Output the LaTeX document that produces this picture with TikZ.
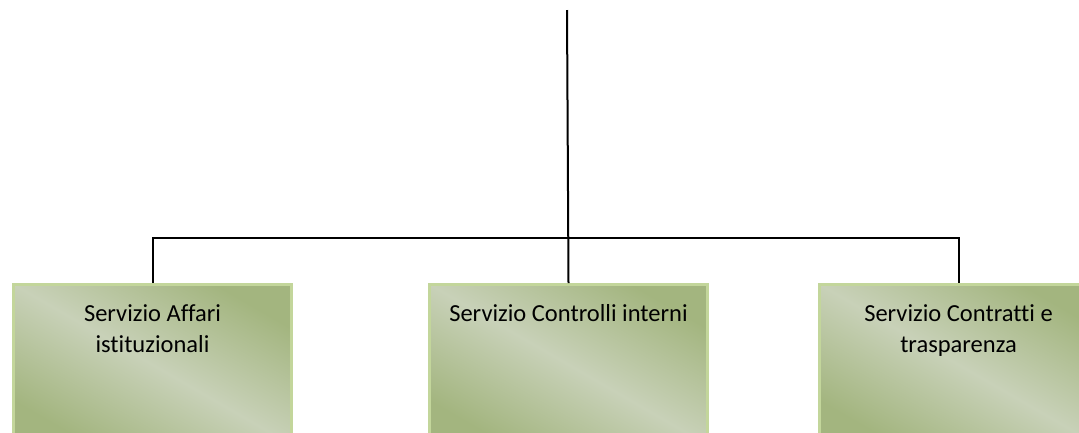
\documentclass[tikz,border=0pt]{standalone}
\usepackage{fontspec}
\setmainfont{Carlito}[Ligatures=NoCommon]
\usetikzlibrary{shadows}
\definecolor{boxdark}{HTML}{A3B57F}
\definecolor{boxlight}{HTML}{C8D1B8}
\definecolor{boxborder}{HTML}{C3D69B}
\begin{document}
\begin{tikzpicture}[x=1pt, y=-1pt,
        servicebox/.style={draw=boxborder, line width=3pt, minimum width=278pt, minimum height=160pt,
            anchor=north west, inner sep=0pt,
            top color=boxdark, bottom color=boxdark, middle color=boxlight, shading angle=-30,
            drop shadow={shadow xshift=1.5pt, shadow yshift=-6pt, fill=black!65, opacity=1}},
        servicetext/.style={anchor=north, align=center, inner sep=0pt, font=\fontsize{24.5}{31}\selectfont},
        link/.style={line width=2pt}]
        \useasboundingbox (0,0) rectangle (1079,432);

        \coordinate (top) at (567,10);
        \coordinate (bar) at (567,238);

        \node[servicebox] (affari) at (12,283) {};
        \node[servicebox] (controlli) at (428,283) {};
        \node[servicebox] (contratti) at (818,283) {};

        \draw[link] (top) -- (controlli.north);
        \draw[link] (affari.north) |- (bar) -| (contratti.north);

        \node[servicetext] (affaritxt) at ([yshift=-17pt]affari.north) {\strut Servizio Affari\\istituzionali};
        \node[servicetext] (controllitxt) at ([yshift=-17pt]controlli.north) {\strut Servizio Controlli interni};
        \node[servicetext] (contrattitxt) at ([yshift=-17pt]contratti.north) {\strut Servizio Contratti e\\trasparenza};
    \end{tikzpicture}
\end{document}
